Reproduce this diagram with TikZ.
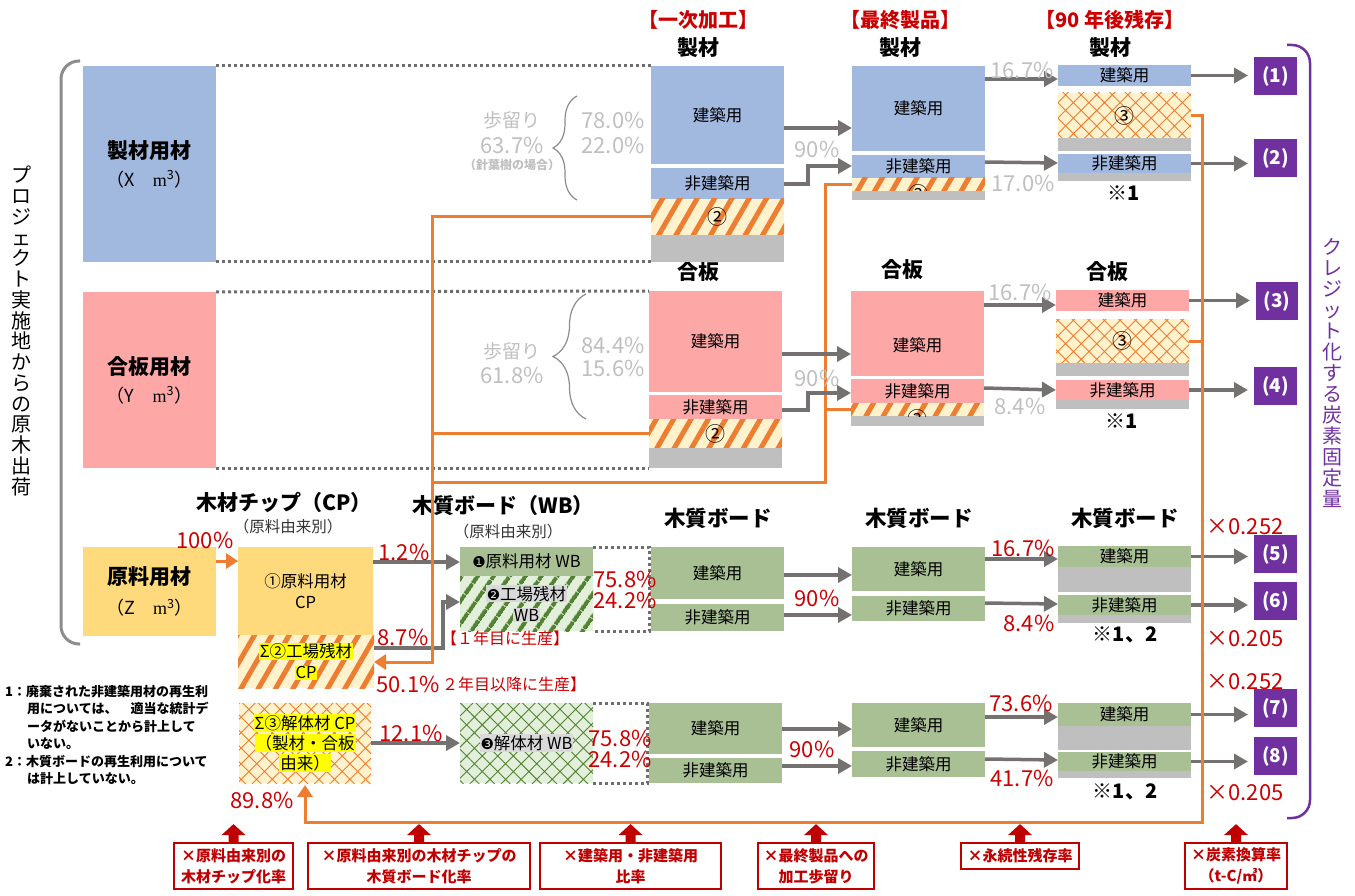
\documentclass[tikz,border=0pt]{standalone}
\usepackage{fontspec}
\setmainfont{Noto Sans CJK JP}
\newfontfamily\dv{DejaVu Sans}
\newfontfamily\lser{Liberation Serif}
\usetikzlibrary{arrows.meta,patterns.meta,decorations.pathreplacing}
\definecolor{cblue}{RGB}{161,184,223}
\definecolor{cpink}{RGB}{253,167,167}
\definecolor{cyel}{RGB}{254,218,125}
\definecolor{cgreen}{RGB}{169,192,148}
\definecolor{cgrayb}{RGB}{191,191,191}
\definecolor{corange}{RGB}{237,125,49}
\definecolor{ccream}{RGB}{255,242,204}
\definecolor{cpurple}{RGB}{112,48,160}
\definecolor{carr}{RGB}{118,113,113}
\definecolor{ctg}{RGB}{191,191,191}
\definecolor{cred}{RGB}{204,0,0}
\definecolor{cdred}{RGB}{192,0,0}
\definecolor{cdgreen}{RGB}{84,130,53}
\definecolor{clgreen}{RGB}{226,239,218}
\definecolor{cdot}{RGB}{110,110,110}
\definecolor{cbrk}{RGB}{140,140,140}
\definecolor{chl}{RGB}{255,255,0}
\definecolor{chlg}{RGB}{217,217,217}
\newcommand\fs[2]{\fontsize{#1pt}{#2pt}\selectfont}
\newcommand\blk[7]{\node[blk,#6,minimum width={(#4-#2)*1pt},minimum height={(#5-#3)*1pt}] (#1) at ({(#2+#4)/2},{(#3+#5)/2}) {#7};}
\newcommand\hly[1]{{\setlength\fboxsep{1pt}\colorbox{chl}{#1}}}
\newcommand\hlg[1]{{\setlength\fboxsep{1pt}\colorbox{chlg}{#1}}}
\newcommand\mcube{{\lser m}\textsuperscript{3}}
\newcommand\uparr[1]{\fill[cdred] ([xshift=-5pt]#1.north) -- ++(0,-7) -- ++(-7,0) -- ++(12,-11) -- ++(12,11) -- ++(-7,0) -- ++(0,7) -- cycle;}
\begin{document}
\begin{tikzpicture}[x=1pt,y=-1pt,
 blk/.style={inner sep=0pt,outer sep=0pt,align=center,font=\fs{16.5}{19}},
 pbox/.style={fill=cpurple,text=white,font=\bfseries\fs{19}{20}},
 garr/.style={draw=carr,line width=3.5pt,-{Triangle[length=14pt,width=15pt]}},
 oline/.style={draw=corange,line width=3pt},
 oarr/.style={oline,-{Triangle[length=12pt,width=15pt]}},
 dotl/.style={draw=cdot,line width=3pt,dash pattern=on 3pt off 3pt},
 hatO/.style={preaction={fill=ccream},pattern={Lines[angle=60,distance=15pt,line width=5pt]},pattern color=corange},
 crossO/.style={preaction={fill=ccream},pattern={Hatch[angle=45,distance=11pt,line width=0.9pt]},pattern color=corange},
 hatG/.style={preaction={fill=clgreen},pattern={Lines[angle=55,distance=13pt,line width=4.5pt]},pattern color=cdgreen},
 crossG/.style={preaction={fill=clgreen},pattern={Hatch[angle=45,distance=11pt,line width=0.9pt]},pattern color=cdgreen},
 hdr/.style={text=cred,font=\bfseries\fs{20}{22}},
 sub/.style={font=\bfseries\fs{21}{23}},
 glab/.style={text=ctg,font=\fs{22}{24}},
 rlab/.style={text=cred,font=\fs{22}{24}},
 nlab/.style={font=\bfseries\fs{20}{22}},
 rbox/.style={draw=cdred,line width=1.8pt,fill=white,text=cdred,font=\bfseries\fs{15}{21},align=center,inner sep=0pt}
]
\useasboundingbox (0,0) rectangle (1355,896);

% brackets
\draw[cbrk, line width=3pt, rounded corners=18pt] (80,61) -- (61,61) -- (61,644) -- (80,644);
\draw[cpurple, line width=2.5pt, rounded corners=18pt] (1287,45) -- (1310,45) -- (1310,818) -- (1287,818);
\node[align=center,font=\fs{20}{20.75}] (v1) at (22,331) {プ\\ロ\\ジ\\ェ\\ク\\ト\\実\\施\\地\\か\\ら\\の\\原\\木\\出\\荷};
\node[align=center,text=cpurple,font=\fs{20}{21}] (v2) at (1332,373) {ク\\レ\\ジ\\ッ\\ト\\化\\す\\る\\炭\\素\\固\\定\\量};

% sources
\blk{srcA}{83}{66}{216}{262}{fill=cblue,font=\fs{20}{28}}{{\bfseries\fs{21}{28}製材用材}\\{\fs{18}{28}（X　\mcube）}}
\blk{srcB}{83}{292}{216}{468}{fill=cpink,font=\fs{20}{28}}{{\bfseries\fs{21}{28}合板用材}\\{\fs{18}{28}（Y　\mcube）}}
\blk{srcC}{83}{547}{216}{636}{fill=cyel,font=\fs{20}{30}}{{\bfseries\fs{21}{30}原料用材}\\{\fs{18}{30}（Z　\mcube）}}

% headers
\node[hdr] (h1) at (698,20) {【一次加工】};
\node[hdr] (h2) at (900,20) {【最終製品】};
\node[hdr] (h3) at (1110,20) {【90 年後残存】};
\node[sub] (s1) at (698,48) {製材};
\node[sub] (s2) at (900,48) {製材};
\node[sub] (s3) at (1110,48) {製材};
\node[sub] (s4) at (698,272) {合板};
\node[sub] (s5) at (902,270) {合板};
\node[sub] (s6) at (1107,272) {合板};
\node[sub,font=\bfseries\fs{21.5}{23}] (s7) at (718,518) {木質ボード};
\node[sub,font=\bfseries\fs{21.5}{23}] (s8) at (919,518) {木質ボード};
\node[sub,font=\bfseries\fs{21.5}{23}] (s9) at (1125,518) {木質ボード};
\node[sub] (s10) at (284,502) {木材チップ（CP）};
\node[sub] (s11) at (503,506) {木質ボード（WB）};
\node[font=\fs{15.5}{17},text=black!80] (s12) at (288,527) {（原料由来別）};
\node[font=\fs{15.5}{17},text=black!80] (s13) at (508,532) {（原料由来別）};

% primary processing
\blk{p1a}{651}{66}{784}{164}{fill=cblue}{建築用}
\blk{p1b}{651}{168}{784}{199}{fill=cblue}{非建築用}
\blk{p1c}{651}{199}{784}{235}{hatO}{\fs{20}{20}②}
\blk{p1d}{651}{235}{784}{262}{fill=cgrayb}{}
\blk{p2a}{649}{291}{782}{392}{fill=cpink}{\raisebox{-10pt}{建築用}}
\blk{p2b}{649}{395}{782}{419}{fill=cpink}{非建築用}
\blk{p2c}{649}{419}{782}{448}{hatO}{\fs{20}{20}②}
\blk{p2d}{649}{448}{782}{468}{fill=cgrayb}{}

% final products
\blk{f1a}{852}{66}{985}{151}{fill=cblue}{建築用}
\blk{f1b}{852}{155}{985}{178}{fill=cblue}{非建築用}
\blk{f1c}{852}{178}{985}{191}{hatO}{}
\blk{f1d}{852}{191}{985}{200}{fill=cgrayb}{}
\blk{f2a}{851}{291}{984}{376}{fill=cpink}{\raisebox{-38pt}{建築用}}
\blk{f2b}{851}{379}{984}{403}{fill=cpink}{非建築用}
\blk{f2c}{851}{403}{984}{416}{hatO}{}
\blk{f2d}{851}{416}{984}{426}{fill=cgrayb}{}
\begin{scope}
\clip (f1c.north west) rectangle (f1c.south east);
\node[font=\fs{20}{20}] (f1n) at ([yshift=-9pt]f1c.center) {②};
\end{scope}
\begin{scope}
\clip (f2c.north west) rectangle (f2c.south east);
\node[font=\fs{20}{20}] (f2n) at ([yshift=-9pt]f2c.center) {②};
\end{scope}

% after 90 years
\blk{r1a}{1058}{65}{1191}{86}{fill=cblue}{建築用}
\blk{r1c}{1058}{93}{1191}{138}{crossO}{\fs{20}{20}③}
\blk{r1g}{1058}{138}{1191}{151}{fill=cgrayb}{}
\blk{r1b}{1058}{154}{1191}{173}{fill=cblue}{非建築用}
\blk{r1d}{1058}{173}{1191}{181}{fill=cgrayb}{}
\blk{r2a}{1056}{290}{1189}{311}{fill=cpink}{建築用}
\blk{r2c}{1056}{319}{1189}{363}{crossO}{\fs{20}{20}③}
\blk{r2g}{1056}{363}{1189}{376}{fill=cgrayb}{}
\blk{r2b}{1056}{380}{1189}{400}{fill=cpink}{非建築用}
\blk{r2d}{1056}{400}{1189}{409}{fill=cgrayb}{}

% chips
\blk{cp1}{238}{547}{373}{635}{fill=cyel,font=\fs{16.5}{21}}{①原料用材\\CP}
\blk{cp2}{238}{635}{374}{688}{hatO,font=\fs{16.5}{21}}{\hly{Σ②工場残材}\\\hly{CP}}
\blk{cp3}{239}{703}{371}{783}{crossO,font=\fs{16.5}{20}}{\hly{Σ③解体材 CP}\\\hly{（製材・合板}\\\hly{由来）}}

% wood boards
\blk{w1a}{460}{547}{593}{576}{fill=cgreen}{{\dv\fs{15}{19}❶}原料用材 WB}
\blk{w1b}{460}{576}{593}{631}{hatG,font=\fs{16.5}{21}}{\hlg{{\dv\fs{15}{19}❷}工場残材}\\\hlg{WB}}
\blk{w2}{460}{703}{593}{783}{crossG}{\hlg{{\dv\fs{15}{19}❸}解体材 WB}}
\blk{p3a}{651}{547}{784}{599}{fill=cgreen}{建築用}
\blk{p3b}{651}{604}{784}{631}{fill=cgreen}{非建築用}
\blk{f3a}{852}{547}{985}{591}{fill=cgreen}{建築用}
\blk{f3b}{852}{596}{985}{621}{fill=cgreen}{非建築用}
\blk{r3a}{1058}{546}{1191}{567}{fill=cgreen}{建築用}
\blk{r3g}{1058}{567}{1191}{592}{fill=cgrayb}{}
\blk{r3b}{1058}{595}{1191}{615}{fill=cgreen}{非建築用}
\blk{r3d}{1058}{615}{1191}{623}{fill=cgrayb}{}
\blk{p4a}{649}{703}{782}{754}{fill=cgreen}{建築用}
\blk{p4b}{649}{758}{782}{783}{fill=cgreen}{非建築用}
\blk{f4a}{852}{703}{985}{747}{fill=cgreen}{建築用}
\blk{f4b}{852}{751}{985}{777}{fill=cgreen}{非建築用}
\blk{r4a}{1058}{703}{1191}{726}{fill=cgreen}{建築用}
\blk{r4g}{1058}{726}{1191}{750}{fill=cgrayb}{}
\blk{r4b}{1058}{752}{1191}{771}{fill=cgreen}{非建築用}
\blk{r4d}{1058}{771}{1191}{778}{fill=cgrayb}{}

% purple result boxes
\blk{pb1}{1254}{57}{1297}{95}{pbox}{\raisebox{3pt}{(1)}}
\blk{pb2}{1254}{139}{1297}{177}{pbox}{\raisebox{3pt}{(2)}}
\blk{pb3}{1256}{282}{1298}{320}{pbox}{\raisebox{3pt}{(3)}}
\blk{pb4}{1254}{367}{1297}{405}{pbox}{\raisebox{3pt}{(4)}}
\blk{pb5}{1254}{535}{1297}{573}{pbox}{\raisebox{3pt}{(5)}}
\blk{pb6}{1254}{582}{1297}{620}{pbox}{\raisebox{3pt}{(6)}}
\blk{pb7}{1254}{689}{1297}{727}{pbox}{\raisebox{3pt}{(7)}}
\blk{pb8}{1254}{737}{1297}{775}{pbox}{\raisebox{3pt}{(8)}}

% dotted guide lines
\draw[dotl] (srcA.north east) -- (p1a.north west);
\draw[dotl] (srcA.south east) -- (p1d.south west);
\draw[dotl] (srcB.north east) -- (p2a.north west);
\draw[dotl] (srcB.south east) -- (p2d.south west);
\draw[dotl] (w1a.north east) -| ([xshift=-1.5pt]p3b.south west) -- (w1b.south east);
\draw[dotl] (w2.north east) -| ([xshift=-1.5pt]p4b.south west) -- (w2.south east);

% yield braces
\draw[cbrk,line width=1.2pt,decorate,decoration={brace,amplitude=24pt,aspect=0.5}] (577,200) -- (577,96);
\draw[cbrk,line width=1.2pt,decorate,decoration={brace,amplitude=33pt,aspect=0.5}] (586,419) -- (586,294);
\node[glab,font=\fs{19}{20}] (y1) at (512,120) {歩留り};
\node[glab] (y2) at (512,145) {63.7\%};
\node[glab,font=\bfseries\fs{12}{13}] (y3) at (512,165) {（針葉樹の場合）};
\node[glab] (y4) at (613,120) {78.0\%};
\node[glab] (y5) at (613,145) {22.0\%};
\node[glab,font=\fs{19}{20}] (y6) at (512,351) {歩留り};
\node[glab] (y7) at (512,375) {61.8\%};
\node[glab] (y8) at (613,345) {84.4\%};
\node[glab] (y9) at (613,368) {15.6\%};

% orange recycling lines (right network)
\coordinate (oj1) at (432,662);
\coordinate (oj2) at (825,482);
\coordinate (oj3) at (1202,822);
\draw[oline] (f1c.west) -| (oj2) -- (oj2 -| oj1);
\draw[oline] (f2c.west) -- (f2c.west -| oj2);

% gray flow arrows
\draw[garr] (p1a.east|-0,128) -- (f1a.west|-0,128);
\draw[garr] (p1b.east|-0,184) -- ++(24,0) |- (f1b.west|-0,166);
\draw[garr] (p2a.east|-0,354) -- (f2a.west|-0,354);
\draw[garr] (p2b.east|-0,410) -- ++(26,0) |- (f2b.west|-0,393);
\draw[garr] (f1a.east|-0,79) -- (r1a.west|-0,79);
\draw[garr] (f1b.east|-0,162) -- (r1b.west|-0,163);
\draw[garr] (f2a.east|-0,305) -- (r2a.west|-0,305);
\draw[garr] (f2b.east|-0,388) -- (r2b.west|-0,390);
\draw[garr] (p3a.east|-0,575) -- (f3a.west|-0,575);
\draw[garr] (p3b.east|-0,615) -- (f3b.west|-0,615);
\draw[garr] (p4a.east|-0,729) -- (f4a.west|-0,729);
\draw[garr] (p4b.east|-0,766) -- (f4b.west|-0,766);
\draw[garr] (f3a.east|-0,559) -- (r3a.west|-0,559);
\draw[garr] (f3b.east|-0,603) -- (r3b.west|-0,604);
\draw[garr] (f4a.east|-0,717) -- (r4a.west|-0,717);
\draw[garr] (f4b.east|-0,759) -- (r4b.west|-0,760);
\draw[garr,shorten >=6pt] (r1a.east) -- (pb1.west|-r1a.east);
\draw[garr,shorten >=6pt] (r1b.east) -- (pb2.west|-r1b.east);
\draw[garr,shorten >=6pt] (r2a.east) -- (pb3.west|-r2a.east);
\draw[garr,shorten >=6pt] (r2b.east) -- (pb4.west|-r2b.east);
\draw[garr,shorten >=6pt] (r3a.east) -- (pb5.west|-r3a.east);
\draw[garr,shorten >=6pt] (r3b.east) -- (pb6.west|-r3b.east);
\draw[garr,shorten >=6pt] (r4a.east) -- (pb7.west|-r4a.east);
\draw[garr,shorten >=6pt] (r4b.east) -- (pb8.west|-r4b.east);
\draw[oarr] (srcC.east|-0,561) -- (cp1.west|-0,561);
\draw[garr] (cp1.east|-0,562) -- (w1a.west|-0,562);
\draw[garr] (cp2.east|-0,648) -- ++(69,0) |- (w1b.west|-0,602);
\draw[garr] (cp3.east|-0,743) -- (w2.west|-0,743);

% orange recycling lines (left and bottom)
\draw[oarr] (p1c.west) -| (oj1) -- (cp2.east |- oj1);
\draw[oline] (p2c.west) -- (p2c.west -| oj1);
\draw[oarr] (r1c.east) -| (oj3) -- (cp3.south |- oj3) -- ([yshift=-2pt]cp3.south);
\draw[oline] (r2c.east) -- (r2c.east -| oj3);

% gray percentages
\node[glab] (g1) at (817,149) {90\%};
\node[glab] (g2) at (817,378) {90\%};
\node[glab] (g3) at (1022,70) {16.7\%};
\node[glab] (g4) at (1023,183) {17.0\%};
\node[glab] (g5) at (1020,292) {16.7\%};
\node[glab] (g6) at (1020,406) {8.4\%};

% red percentages
\node[rlab] (q1) at (205,540) {100\%};
\node[rlab] (q2) at (404,552) {1.2\%};
\node[rlab] (q3) at (403,637) {8.7\%};
\node[rlab] (q4) at (408,684) {50.1\%};
\node[rlab] (q5) at (411,733) {12.1\%};
\node[rlab] (q6) at (262,800) {89.8\%};
\node[rlab] (q7) at (625,579) {75.8\%};
\node[rlab] (q8) at (625,600) {24.2\%};
\node[rlab] (q9) at (620,738) {75.8\%};
\node[rlab] (q10) at (620,759) {24.2\%};
\node[rlab] (q11) at (817,598) {90\%};
\node[rlab] (q12) at (812,749) {90\%};
\node[rlab] (q13) at (1023,548) {16.7\%};
\node[rlab] (q14) at (1029,623) {8.4\%};
\node[rlab] (q15) at (1021,703) {73.6\%};
\node[rlab] (q16) at (1022,778) {41.7\%};
\node[rlab] (q17) at (1245,527) {×0.252};
\node[rlab] (q18) at (1245,639) {×0.205};
\node[rlab] (q19) at (1245,682) {×0.252};
\node[rlab] (q20) at (1245,793) {×0.205};
\node[text=cred,font=\fs{16}{17}] (q21) at (505,638) {【１年目に生産】};
\node[text=cred,font=\fs{16}{17},anchor=west,inner sep=0pt] (q22) at (442,684) {２年目以降に生産】};

% notes
\node[nlab] (n1) at (1124,193) {※1};
\node[nlab] (n2) at (1122,421) {※1};
\node[nlab] (n3) at (1125,635) {※1、2};
\node[nlab] (n4) at (1125,792) {※1、2};
\node[anchor=north west,align=left,inner sep=0pt,font=\bfseries\fs{13}{17.5}] (notes) at (5,685) {1：廃棄された非建築用材の再生利\\\hspace*{22pt}用については、　適当な統計デ\\\hspace*{22pt}ータがないことから計上して\\\hspace*{22pt}いない。\\2：木質ボードの再生利用について\\\hspace*{22pt}は計上していない。};

% bottom factor boxes
\node[rbox,minimum width=119pt,minimum height=46pt] (b1) at (233.5,866) {×原料由来別の\\木材チップ化率};
\node[rbox,minimum width=222pt,minimum height=46pt] (b2) at (419,866) {×原料由来別の木材チップの\\木質ボード化率};
\node[rbox,minimum width=181pt,minimum height=46pt] (b3) at (630.5,866) {×建築用・非建築用\\比率};
\node[rbox,minimum width=116pt,minimum height=46pt] (b4) at (816,866) {×最終製品への\\加工歩留り};
\node[rbox,minimum width=118pt,minimum height=26pt] (b5) at (1020,856) {×永続性残存率};
\node[rbox,minimum width=102pt,minimum height=46pt] (b6) at (1236,866) {×炭素換算率\\（t-C/㎥）};
\uparr{b1}\uparr{b2}\uparr{b3}\uparr{b4}\uparr{b5}\uparr{b6}
\end{tikzpicture}
\end{document}
